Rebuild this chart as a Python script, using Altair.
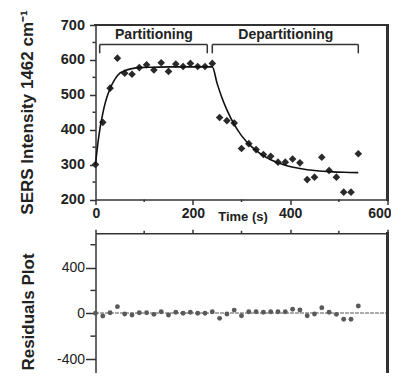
import altair as alt
import pandas as pd

# ---- data ----
part_t = [0, 15, 30, 45, 60, 75, 90, 105, 120, 135, 150, 165, 180, 195, 210, 225, 240]
part_v = [300, 421, 519, 605, 562, 559, 578, 586, 571, 592, 567, 588, 581, 590, 581, 581, 590]
dep_t = [255, 270, 285, 300, 315, 330, 345, 360, 375, 390, 405, 420, 435, 450, 465, 480, 495, 510, 525, 540]
dep_v = [435, 426, 419, 346, 360, 343, 329, 324, 307, 307, 316, 305, 257, 264, 321, 283, 264, 221, 221, 331]

fit_t = [0, 5, 10, 15, 20, 30, 40, 50, 60, 75, 90, 120, 150, 240, 250, 260, 270, 285, 300, 320, 340, 360, 390, 420, 450, 480, 510, 540]
fit_v = [300, 362, 410, 447, 477, 518, 545, 562, 569, 575, 578, 579, 580, 580, 532, 491, 457, 415, 383, 352, 330, 314, 298, 289, 283, 280, 278, 277]

res_v = [0, -24, 5, 58, -6, -15, 5, 5, -9, 14, -15, 9, 0, 9, 0, 0, 14,
         -44, -6, 28, -21, 14, 14, 9, 14, 14, 14, 35, 29, -21, -6, 49, 9, -9, -52, -52, 64]

x_major = [0, 200, 400, 600]
x_minor = [100, 300, 500]
y_top_major = [200, 300, 400, 500, 600, 700]
y_top_minor = [250, 350, 450, 550, 650]
y_res_major = [-400, 0, 400]
y_res_minor = [-600, -200, 200, 600]

phase_labels = ["Partitioning", "Departitioning"]
phase_center = [120, 391]
phase_start = [8.6, 240]
phase_end = [229.7, 540]
label_level = 671
bracket_level = 644
bracket_foot = 619

# ---- tables ----
pts_df = pd.DataFrame({"t": part_t + dep_t, "v": part_v + dep_v})
fit_df = pd.DataFrame({"t": fit_t, "v": fit_v})
res_df = pd.DataFrame({"t": part_t + dep_t, "r": res_v})
xminor_df = pd.DataFrame({"t": x_minor})
ytopminor_df = pd.DataFrame({"v": y_top_minor})
yresminor_df = pd.DataFrame({"r": y_res_minor})
phase_df = pd.DataFrame({"label": phase_labels, "center": phase_center,
                         "start": phase_start, "end": phase_end})
feet_df = pd.DataFrame({"t": phase_start + phase_end})

FONT = "Liberation Sans"
INK = "#2a2a2a"
AX = "#333333"

W, H = 292, 348
xs = alt.Scale(domain=[0, 600], nice=False, zero=False)


def ys_top():
    return alt.Scale(domain=[200, 700], range=[174.5, 0], nice=False, zero=False)


def ys_res():
    return alt.Scale(domain=[-700, 700], range=[368.3, 208.3], nice=False, zero=False)


axis_common = dict(grid=False, domainColor=AX, domainWidth=1.5, tickColor=AX, tickWidth=1.5,
                   labelFont=FONT, labelColor="#222", titleFont=FONT, titleColor="#222")

top_x_axis = alt.Axis(orient="bottom", offset=-(H - 174.5), values=x_major, tickSize=5,
                      labelPadding=2, labelFontSize=14, labelFontWeight="bold",
                      labelFlush=True, labelFlushOffset=3.5, labelOverlap=False,
                      title="Time (s)", titleX=147, titleY=17, titleFontSize=13,
                      titleFontWeight="bold", titleAlign="center", titleBaseline="middle",
                      **axis_common)
top_y_axis = alt.Axis(orient="left", values=y_top_major, tickSize=6, labelPadding=5,
                      labelFontSize=14.5, labelFontWeight="bold",
                      title="SERS Intensity 1462 cm⁻¹", titleX=-63, titleY=87, titleAngle=-90,
                      titleAlign="center", titleBaseline="alphabetic", titleFontSize=17,
                      titleFontWeight="bold", **axis_common)
res_x_axis = alt.Axis(orient="top", offset=-208.3, values=x_major, tickSize=4, labels=False,
                      title=None, **axis_common)
res_y_axis = alt.Axis(orient="left", values=y_res_major, tickSize=10, labelPadding=1,
                      labelFontSize=14, labelFontWeight="normal", labelExpr="datum.value",
                      title="Residuals Plot", titleX=-62.5, titleY=286.5, titleAngle=-90,
                      titleAlign="center", titleBaseline="alphabetic", titleFontSize=17,
                      titleFontWeight="bold", **axis_common)

# ---- top panel ----
points = alt.Chart(pts_df).mark_point(shape="diamond", filled=True, size=58, color=INK, opacity=1).encode(
    x=alt.X("t:Q", scale=xs, axis=top_x_axis),
    y=alt.Y("v:Q", scale=ys_top(), axis=top_y_axis),
)
fit_line = alt.Chart(fit_df).mark_line(color="#111", strokeWidth=1.6, interpolate="monotone").encode(
    x=alt.X("t:Q", scale=xs, axis=None),
    y=alt.Y("v:Q", scale=ys_top(), axis=None),
)
frame_top = alt.Chart(pts_df).mark_rule(color=AX, strokeWidth=1.5, strokeCap="square").encode(
    x=alt.XDatum(0, scale=xs, axis=None), x2=alt.X2Datum(600),
    y=alt.YDatum(700, scale=ys_top(), axis=None),
)
frame_right = alt.Chart(pts_df).mark_rule(color=AX, strokeWidth=1.5, strokeCap="square").encode(
    x=alt.XDatum(600, scale=xs, axis=None),
    y=alt.YDatum(200, scale=ys_top(), axis=None), y2=alt.Y2Datum(700),
)
top_xminor = alt.Chart(xminor_df).mark_rule(color=AX, strokeWidth=1.5, y2Offset=2.5).encode(
    x=alt.X("t:Q", scale=xs, axis=None),
    y=alt.YDatum(200, scale=ys_top(), axis=None), y2=alt.Y2Datum(200),
)
top_yminor = alt.Chart(ytopminor_df).mark_rule(color=AX, strokeWidth=1.5, x2Offset=-3).encode(
    x=alt.XDatum(0, scale=xs, axis=None), x2=alt.X2Datum(0),
    y=alt.Y("v:Q", scale=ys_top(), axis=None),
)
bracket_h = alt.Chart(phase_df).mark_rule(color=AX, strokeWidth=1.5).encode(
    x=alt.X("start:Q", scale=xs, axis=None), x2="end:Q",
    y=alt.YDatum(bracket_level, scale=ys_top(), axis=None),
)
bracket_v = alt.Chart(feet_df).mark_rule(color=AX, strokeWidth=1.5).encode(
    x=alt.X("t:Q", scale=xs, axis=None),
    y=alt.YDatum(bracket_level, scale=ys_top(), axis=None), y2=alt.Y2Datum(bracket_foot),
)
phase_text = alt.Chart(phase_df).mark_text(font=FONT, fontSize=14, fontWeight="bold",
                                           color="#222", baseline="middle", align="center").encode(
    x=alt.X("center:Q", scale=xs, axis=None),
    y=alt.YDatum(label_level, scale=ys_top(), axis=None),
    text="label:N",
)

# ---- residual panel ----
zero_line = alt.Chart(res_df).mark_rule(color="#aaaaaa", strokeWidth=1, strokeDash=[3, 2]).encode(
    x=alt.XDatum(0, scale=xs, axis=None), x2=alt.X2Datum(600),
    y=alt.YDatum(0, scale=ys_res(), axis=None),
)
res_dots = alt.Chart(res_df).mark_circle(size=24, color="#5a5a5a", opacity=1).encode(
    x=alt.X("t:Q", scale=xs, axis=res_x_axis),
    y=alt.Y("r:Q", scale=ys_res(), axis=res_y_axis),
)
res_right = alt.Chart(res_df).mark_rule(color=AX, strokeWidth=1.5, strokeCap="square").encode(
    x=alt.XDatum(600, scale=xs, axis=None),
    y=alt.YDatum(-700, scale=ys_res(), axis=None), y2=alt.Y2Datum(700),
)
res_xminor = alt.Chart(xminor_df).mark_rule(color=AX, strokeWidth=1.5, y2Offset=-2.5).encode(
    x=alt.X("t:Q", scale=xs, axis=None),
    y=alt.YDatum(700, scale=ys_res(), axis=None), y2=alt.Y2Datum(700),
)
res_yminor = alt.Chart(yresminor_df).mark_rule(color=AX, strokeWidth=1.5, x2Offset=-5).encode(
    x=alt.XDatum(0, scale=xs, axis=None), x2=alt.X2Datum(0),
    y=alt.Y("r:Q", scale=ys_res(), axis=None),
)

chart = alt.layer(
    points, fit_line, frame_top, frame_right, top_xminor, top_yminor,
    bracket_h, bracket_v, phase_text,
    zero_line, res_dots, res_right, res_xminor, res_yminor,
).resolve_scale(y="independent").resolve_axis(
    x="independent", y="independent"
).properties(
    width=W, height=H,
    padding={"left": 87.5, "top": 17, "right": 3.5, "bottom": 0},
    autosize=alt.AutoSizeParams(type="none"),
    background="white",
).configure_view(stroke=None)

chart.save("out.html", embed_options={"renderer": "svg", "actions": False})
